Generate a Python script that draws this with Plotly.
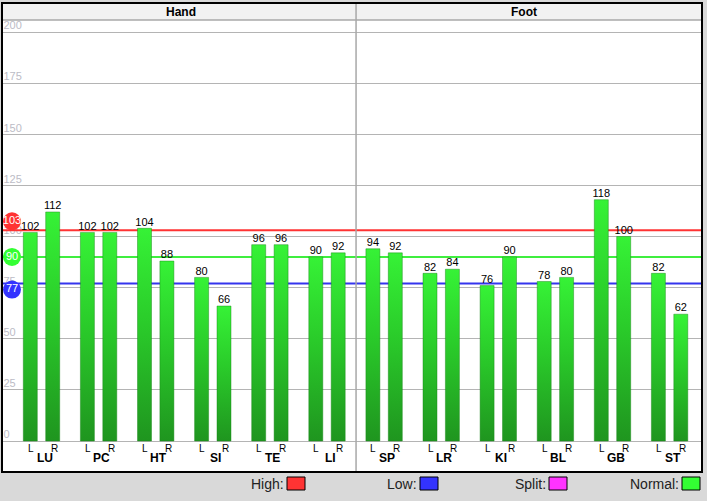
import plotly.graph_objects as go

# ---------------- data ----------------
groups = ["LU", "PC", "HT", "SI", "TE", "LI", "SP", "LR", "KI", "BL", "GB", "ST"]
left_vals = [102, 102, 104, 80, 96, 90, 94, 82, 76, 78, 118, 82]
right_vals = [112, 102, 88, 66, 96, 92, 92, 84, 90, 80, 100, 62]
side_labels = ["L", "R"]
sections = ["Hand", "Foot"]
section_sizes = [6, 6]
y_ticks = [0, 25, 50, 75, 100, 125, 150, 175, 200]
threshold_names = ["High", "Normal", "Low"]
threshold_vals = [103, 90, 77]
threshold_colors = ["#ff3333", "#3fee3f", "#3535ee"]
marker_colors = ["#ff3333", "#33ff33", "#3333ff"]
legend_names = ["High", "Low", "Split", "Normal"]
legend_colors = ["#ff3333", "#3333ff", "#ff33ff", "#33ff33"]

# ---------------- geometry (pixels) ----------------
W, H = 707, 501
PL, PR, PT, PB = 2, 702, 20, 472       # plot area
HDR_TOP = 3
GROUP_PX = 57.1
FIRST_GROUP_PX = 41.5
Y0_PX, Y200_PX = 441, 32
PX_PER_UNIT = (Y0_PX - Y200_PX) / 200.0

x_lo = -(FIRST_GROUP_PX - PL) / GROUP_PX
x_hi = x_lo + (PR - PL) / GROUP_PX
y_lo = -(PB - Y0_PX) / PX_PER_UNIT
y_hi = 200 + (Y200_PX - PT) / PX_PER_UNIT


def px_x(px):
    return (px - PL) / (PR - PL)


def px_y(py):
    return (PB - py) / (PB - PT)


def dx(px):
    return px / GROUP_PX


HALF_W = dx(7)
OFF = dx(11.2)
FONT = "Liberation Sans, Arial, sans-serif"

fig = go.Figure()

# y tick labels (inside, above grid lines)
fig.add_trace(go.Scatter(
    x=[x_lo + dx(1.5)] * len(y_ticks), y=y_ticks, mode="text",
    text=[str(t) for t in y_ticks], textposition="top right",
    textfont=dict(family=FONT, size=11, color="#bcbcc6"),
    hoverinfo="skip", showlegend=False, cliponaxis=False))

# threshold lines (behind bars)
for name, val, col in zip(threshold_names, threshold_vals, threshold_colors):
    fig.add_trace(go.Scatter(
        x=[x_lo, x_hi], y=[val, val], mode="lines",
        line=dict(color=col, width=2), hoverinfo="skip", showlegend=False))

# bars with vertical gradient
for i, g in enumerate(groups):
    for side, vals, sgn in ((side_labels[0], left_vals, -1), (side_labels[1], right_vals, 1)):
        v = vals[i]
        xc = i + sgn * OFF
        fig.add_trace(go.Scatter(
            x=[xc - HALF_W, xc + HALF_W, xc + HALF_W, xc - HALF_W, xc - HALF_W],
            y=[0, 0, v, v, 0], mode="lines", fill="toself",
            fillgradient=dict(type="vertical", start=0, stop=v,
                              colorscale=[[0, "#1f951f"], [0.55, "#2acb2a"], [1, "#36f236"]]),
            line=dict(color="rgba(25,135,25,0.45)", width=1),
            name=f"{g} {side}", hoverinfo="skip", showlegend=False))

# value labels
xs, ys, ts = [], [], []
for i in range(len(groups)):
    xs += [i - OFF, i + OFF]
    ys += [left_vals[i], right_vals[i]]
    ts += [str(left_vals[i]), str(right_vals[i])]
fig.add_trace(go.Scatter(
    x=xs, y=ys, mode="text", text=ts, textposition="top center",
    textfont=dict(family=FONT, size=11, color="#000000"),
    hoverinfo="skip", showlegend=False, cliponaxis=False))

# threshold badges
badge_shift_px = [9, 0, -6]
fig.add_trace(go.Scatter(
    x=[x_lo + dx(10)] * 3,
    y=[v + s / PX_PER_UNIT for v, s in zip(threshold_vals, badge_shift_px)],
    mode="markers+text", text=[str(v) for v in threshold_vals],
    textposition="middle center",
    textfont=dict(family=FONT, size=11, color="#ffffff"),
    marker=dict(size=18, color=marker_colors, line=dict(width=0)),
    hoverinfo="skip", showlegend=False, cliponaxis=False))

annotations = []
# L / R and group names
for i, g in enumerate(groups):
    for side, sgn, xs_ in ((side_labels[0], -1, 0.5), (side_labels[1], 1, 1.5)):
        annotations.append(dict(
            x=i + sgn * OFF, y=0, xref="x", yref="y", text=side, showarrow=False,
            yanchor="top", yshift=0, xshift=xs_,
            font=dict(family=FONT, size=10, color="#000")))
    annotations.append(dict(
        x=i, y=0, xref="x", yref="y", text=f"<b>{g}</b>", showarrow=False,
        yanchor="top", yshift=-8, xshift=3,
        font=dict(family=FONT, size=12, color="#000")))

# section headers + divider
shapes = []
hdr_y = px_y(HDR_TOP)
shapes.append(dict(type="rect", xref="paper", yref="paper", x0=0, x1=1, y0=1, y1=hdr_y,
                   fillcolor="#f2f2f2", line=dict(width=0), layer="above"))
shapes.append(dict(type="line", xref="paper", yref="paper", x0=0, x1=1, y0=1, y1=1,
                   line=dict(color="#a8a8a8", width=1.5)))
start = 0
sec_bounds = []
for name, n in zip(sections, section_sizes):
    a = FIRST_GROUP_PX + (start - 0.5) * GROUP_PX
    b = FIRST_GROUP_PX + (start + n - 0.5) * GROUP_PX
    a = max(a, PL)
    b = min(b, PR)
    sec_bounds.append((a, b))
    annotations.append(dict(
        x=px_x((a + b) / 2 - 3), y=px_y(12), xref="paper", yref="paper",
        text=f"<b>{name}</b>", showarrow=False, xanchor="center", yanchor="middle",
        font=dict(family=FONT, size=12, color="#000")))
    start += n
div_px = sec_bounds[0][1] + 0.5
shapes.append(dict(type="line", xref="paper", yref="paper", x0=px_x(div_px), x1=px_x(div_px),
                   y0=0, y1=hdr_y, line=dict(color="#a8a8a8", width=1.5)))
shapes.append(dict(type="rect", xref="paper", yref="paper", x0=0, x1=1, y0=0, y1=hdr_y,
                   line=dict(color="#000", width=2), fillcolor="rgba(0,0,0,0)"))

# legend (bottom)
legend_box_left_px = [287, 420, 549, 682]
for name, col, bx in zip(legend_names, legend_colors, legend_box_left_px):
    shapes.append(dict(type="rect", xref="paper", yref="paper",
                       x0=px_x(bx), x1=px_x(bx + 18), y0=px_y(490), y1=px_y(477),
                       fillcolor=col, line=dict(color="#000", width=1)))
    annotations.append(dict(
        x=px_x(bx - 1.5), y=px_y(483.5), xref="paper", yref="paper",
        text=f"{name}:", showarrow=False, xanchor="right", yanchor="middle",
        font=dict(family=FONT, size=14, color="#222")))

fig.update_layout(
    width=W, height=H, autosize=False,
    margin=dict(l=PL, r=W - PR, t=PT, b=H - PB, pad=0),
    paper_bgcolor="#d9d9d9", plot_bgcolor="#ffffff",
    showlegend=False,
    xaxis=dict(range=[x_lo, x_hi], showgrid=False, zeroline=False, showticklabels=False,
               ticks="", fixedrange=True),
    yaxis=dict(range=[y_lo, y_hi], tickvals=y_ticks, showgrid=True, gridcolor="#b4b4b4",
               gridwidth=1, zeroline=False, showticklabels=False, ticks="", fixedrange=True),
    shapes=shapes, annotations=annotations,
)

fig.write_html("out.html", config={"displayModeBar": False},
               post_script="document.body.style.margin='0';document.body.style.background='#d9d9d9';")
